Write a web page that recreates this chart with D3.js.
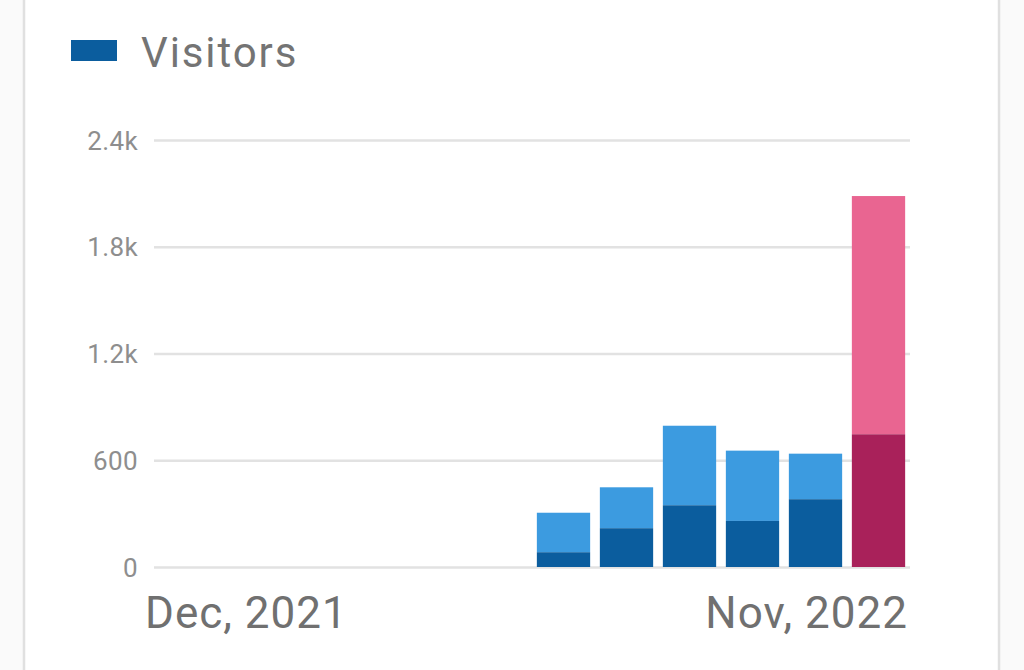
<!DOCTYPE html>
<html>
<head>
<meta charset="utf-8">
<script src="https://cdn.jsdelivr.net/npm/d3@7"></script>
<style>
    body { margin: 0; background: #fafafa; font-family: Roboto, "Noto Sans", sans-serif; }
    #chart { width: 1024px; height: 670px; }
</style>
</head>
<body>
<div id="chart"></div>
<script>
// Months shown on the x axis
var months = ["Dec, 2021", "Jan, 2022", "Feb, 2022", "Mar, 2022", "Apr, 2022", "May, 2022",
              "Jun, 2022", "Jul, 2022", "Aug, 2022", "Sep, 2022", "Oct, 2022", "Nov, 2022"];
// Lower (dark) part of each bar
var newVisitors = [0, 0, 0, 0, 0, 0, 83, 218, 347, 259, 381, 746];
// Upper (light) part of each bar
var returnVisitors = [0, 0, 0, 0, 0, 0, 222, 230, 447, 395, 256, 1339];
// Y tick values
var yTicks = [0, 600, 1200, 1800, 2400];

// Set up SVG params
var svgWdt = 1024;
var svgHgt = 670;

var svg = d3.select("#chart").append("svg")
    .attr("width", svgWdt)
    .attr("height", svgHgt);

// Card background with borders left/right
svg.append("rect")
    .attr("x", 24).attr("y", -5)
    .attr("width", 975).attr("height", svgHgt + 10)
    .attr("fill", "#ffffff")
    .attr("stroke", "#e0e0e0")
    .attr("stroke-width", 2.5);

// Legend
svg.append("rect")
    .attr("x", 71).attr("y", 40)
    .attr("width", 46).attr("height", 21)
    .attr("fill", "#0b5d9e");
svg.append("text")
    .attr("x", 141).attr("y", 67)
    .attr("font-size", 42)
    .attr("letter-spacing", 1.9)
    .attr("fill", "#747474")
    .text("Visitors");

// Scales
var xScl = d3.scaleBand().domain(months).range([154, 910])
    .paddingInner(0.154).paddingOuter(0.077);
var yScl = d3.scaleLinear().domain([0, 2400]).range([567, 140]);

// Grid lines
var lftRule = d3.axisLeft(yScl)
    .tickValues(yTicks)
    .tickFormat(d3.format("~s"))
    .tickSize(-756)
    .tickPadding(16);

var yAxis = svg.append("g")
    .attr("transform", "translate(154, 0)")
    .call(lftRule);
yAxis.select(".domain").remove();
yAxis.selectAll(".tick line")
    .attr("stroke", "#e2e2e2")
    .attr("stroke-width", 2.5);
yAxis.selectAll(".tick text")
    .attr("font-family", "Roboto")
    .attr("font-size", 26)
    .attr("letter-spacing", 0.4)
    .attr("fill", "#8e8e8e")
    .attr("dy", "0.35em");

// Stacked bars
var colorIdx = months.length - 1;
var barGrp = svg.append("g");
months.forEach(function(m, i) {
    var last = (i == colorIdx);
    var lo = newVisitors[i];
    var hi = newVisitors[i] + returnVisitors[i];
    if (hi <= 0) return;
    barGrp.append("rect")
        .attr("x", xScl(m))
        .attr("width", xScl.bandwidth())
        .attr("y", yScl(hi))
        .attr("height", yScl(lo) - yScl(hi))
        .attr("fill", last ? "#e96591" : "#3c9be0");
    barGrp.append("rect")
        .attr("x", xScl(m))
        .attr("width", xScl.bandwidth())
        .attr("y", yScl(lo))
        .attr("height", yScl(0) - yScl(lo))
        .attr("fill", last ? "#a9215a" : "#0b5d9e");
});

// X axis labels, first and last only
var botRule = d3.axisBottom(xScl)
    .tickValues([months[0], months[months.length - 1]])
    .tickSize(0)
    .tickPadding(0);
var xAxis = svg.append("g")
    .attr("transform", "translate(0, 567)")
    .call(botRule);
xAxis.select(".domain").remove();
xAxis.selectAll(".tick text")
    .attr("font-family", "Roboto")
    .attr("font-size", 44)
    .attr("letter-spacing", 1)
    .attr("fill", "#707070")
    .attr("y", 61)
    .attr("dy", 0)
    .attr("text-anchor", (d, i) => i == 0 ? "start" : "end")
    .attr("x", (d, i) => i == 0 ? 145 - xScl(d) - xScl.bandwidth() / 2 : 908 - xScl(d) - xScl.bandwidth() / 2);
</script>
</body>
</html>
